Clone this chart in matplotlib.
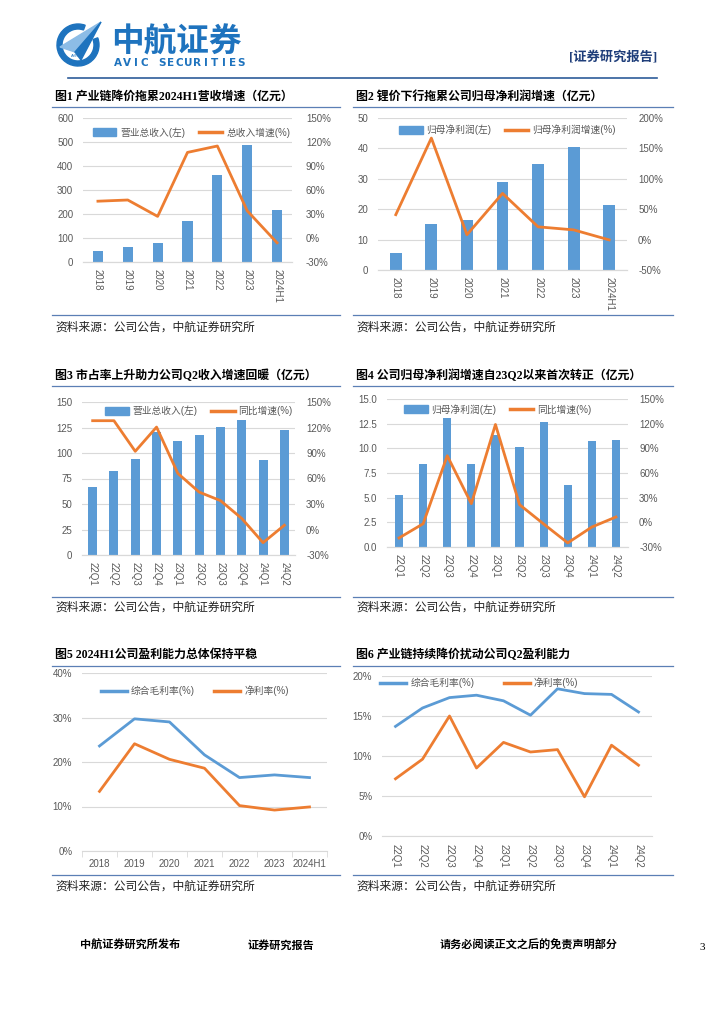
import numpy as np
import matplotlib
matplotlib.use('Agg')
import matplotlib.pyplot as plt
from matplotlib.patches import Wedge, Polygon, Patch
from matplotlib.lines import Line2D

plt.rcParams['font.family'] = ['Liberation Sans', 'Noto Sans CJK SC']

# data
years = ['2018', '2019', '2020', '2021', '2022', '2023', '2024H1']
quarters = ['22Q1', '22Q2', '22Q3', '22Q4', '23Q1', '23Q2', '23Q3', '23Q4', '24Q1', '24Q2']

revenue = [45, 63, 81, 169, 363, 488, 215]
revenue_growth = [46, 47.5, 27, 107, 115, 34, -6]
profit = [5.6, 15.2, 16.5, 29.0, 35.0, 40.5, 21.3]
profit_growth = [41, 167, 8, 76, 21, 16, -0.5]
q_revenue = [67, 82, 94, 120.5, 112, 118, 125.5, 132, 93, 123]
q_revenue_growth = [128, 128, 92, 120.5, 66, 44, 34, 13, -15.5, 5]
q_profit = [5.24, 8.38, 13.07, 8.45, 11.4, 10.1, 12.7, 6.3, 10.7, 10.8]
q_profit_growth = [-19, -1.7, 81, 22.7, 119, 21.5, -2, -25, -5.7, 6.5]
gross_margin = [23.6, 29.7, 29.0, 21.6, 16.5, 17.1, 16.5]
net_margin = [13.4, 24.1, 20.6, 18.6, 10.2, 9.2, 9.9]
q_gross_margin = [13.7, 16.0, 17.3, 17.6, 16.9, 15.1, 18.4, 17.8, 17.7, 15.5]
q_net_margin = [7.15, 9.6, 15.0, 8.5, 11.7, 10.5, 10.8, 4.9, 11.35, 8.85]

titles = ['图1 产业链降价拖累2024H1营收增速（亿元）',
          '图2 锂价下行拖累公司归母净利润增速（亿元）',
          '图3 市占率上升助力公司Q2收入增速回暖（亿元）',
          '图4 公司归母净利润增速自23Q2以来首次转正（亿元）',
          '图5 2024H1公司盈利能力总体保持平稳',
          '图6 产业链持续降价扰动公司Q2盈利能力']
source = '资料来源：公司公告，中航证券研究所'

BLUE = '#5B9BD5'
ORANGE = '#ED7D31'
GRID = '#D9D9D9'
TXT = '#595959'
LINEC = '#5B7FB5'
TFONT = ['Liberation Serif', 'Noto Sans CJK SC']

W, H = 724, 1024
fig = plt.figure(figsize=(W / 100, H / 100), dpi=100)
bg = fig.add_axes([0, 0, 1, 1], zorder=0)
bg.set_xlim(0, W)
bg.set_ylim(H, 0)
bg.axis('off')


def rect(x0, y0, x1, y1):
    return [x0 / W, 1 - y1 / H, (x1 - x0) / W, (y1 - y0) / H]


# header
bg.add_patch(Wedge((78, 45), 21, -20, 290, width=5, color='#1E73BE'))
bg.add_patch(Polygon([(60, 47), (101, 22), (75, 52)], color='#8CBCE6'))
bg.add_patch(Polygon([(75, 52), (101, 22), (81, 60)], color='#1E73BE'))
bg.text(76, 56, 'AVIC', fontsize=3, color='#1E73BE', ha='center', va='center')
bg.text(111, 42, '中航证券', fontsize=23.5, fontweight='bold', color='#1E73BE',
        family=['Noto Sans CJK SC'], va='center')
for i, ch in enumerate('AVIC SECURITIES'):
    bg.text(118 + i * 8.8, 63, ch, fontsize=7.5, fontweight='bold',
            color='#1E73BE', ha='center', va='center', family=['DejaVu Sans'])
bg.text(657, 57, '[证券研究报告]', fontsize=9.5, fontweight='bold', color='#1F3E7A',
        ha='right', va='center', family=TFONT)
bg.plot([68, 657], [78, 78], color='#2E5C9A', lw=1.2)

# frames of the six panels
panels = [(52, 340, 97, 107, 315, 327), (353, 673, 97, 107, 315, 327),
          (52, 340, 376, 386, 597, 607), (353, 673, 376, 386, 597, 607),
          (52, 340, 655, 666, 875, 886), (353, 673, 655, 666, 875, 886)]
for t, (x0, x1, ty, tl, bl, sy) in zip(titles, panels):
    bg.text(x0 + 3, ty, t, fontsize=8.6, fontweight='bold', va='center', family=TFONT)
    bg.plot([x0, x1], [tl, tl], color=LINEC, lw=0.9)
    bg.plot([x0, x1], [bl, bl], color=LINEC, lw=0.9)
    bg.text(x0 + 3, sy, source, fontsize=8.5, va='center', color='#222222',
            family=['Noto Sans CJK SC'])

# footer
bg.text(80, 945, '中航证券研究所发布', fontsize=8, fontweight='bold', va='center', family=TFONT)
bg.text(248, 945, '证券研究报告', fontsize=8, fontweight='bold', va='center', family=TFONT)
bg.text(440, 945, '请务必阅读正文之后的免责声明部分', fontsize=8, fontweight='bold',
        va='center', family=TFONT)
bg.text(700, 947, '3', fontsize=8, va='center', family=['Liberation Serif'])


def style(ax, lpad=7, bpad=5):
    for s in ax.spines.values():
        s.set_visible(False)
    ax.spines['bottom'].set_visible(True)
    ax.spines['bottom'].set_color(GRID)
    ax.tick_params(length=0, labelsize=7, colors=TXT)
    ax.tick_params(axis='y', pad=lpad)
    ax.tick_params(axis='x', pad=bpad)


def bar_line(r, cats, bars, line, ylim, yticks, yfmt, rlim, rticks, names,
             ly, lx=0.5, width=0.36, rpad=8):
    ax = fig.add_axes(rect(*r), zorder=2)
    x = np.arange(len(cats))
    ax.bar(x, bars, width, color=BLUE, zorder=2)
    ax.set_xlim(-0.5, len(cats) - 0.5)
    ax.set_ylim(ylim)
    ax.set_yticks(yticks)
    ax.set_yticklabels([yfmt(v) for v in yticks])
    ax.yaxis.grid(True, color=GRID, lw=0.8)
    ax.set_axisbelow(True)
    ax.set_xticks(x)
    ax.set_xticklabels(cats, rotation=270)
    style(ax)
    ax2 = ax.twinx()
    ax2.plot(x, line, color=ORANGE, lw=2)
    ax2.set_ylim(rlim)
    ax2.set_yticks(rticks)
    ax2.set_yticklabels([f'{v}%' for v in rticks])
    style(ax2, lpad=rpad)
    handles = [Patch(color=BLUE), Line2D([], [], color=ORANGE, lw=2.5)]
    ax2.legend(handles, names, loc='center', bbox_to_anchor=(lx, ly), ncol=2,
               frameon=False, fontsize=7, handlelength=2.4, handleheight=0.9,
               columnspacing=1.4, handletextpad=0.4, labelcolor=TXT)
    return ax


def lines(r, cats, a, b, ylim, yticks, names, ly, lx=0.5, rot=0, cs=2.5):
    ax = fig.add_axes(rect(*r), zorder=2)
    x = np.arange(len(cats))
    ax.plot(x, a, color=BLUE, lw=2)
    ax.plot(x, b, color=ORANGE, lw=2)
    ax.set_xlim(-0.5, len(cats) - 0.5)
    ax.set_ylim(ylim)
    ax.set_yticks(yticks)
    ax.set_yticklabels([f'{v}%' for v in yticks])
    ax.yaxis.grid(True, color=GRID, lw=0.8)
    ax.set_xticks(x)
    ax.set_xticklabels(cats, rotation=rot)
    style(ax, lpad=7, bpad=6)
    handles = [Line2D([], [], color=BLUE, lw=2.5), Line2D([], [], color=ORANGE, lw=2.5)]
    ax.legend(handles, names, loc='center', bbox_to_anchor=(lx, ly), ncol=2,
              frameon=False, fontsize=7, handlelength=2.7, columnspacing=cs,
              handletextpad=0.4, labelcolor=TXT)
    return ax


bar_line((83, 118, 292, 262), years, revenue, revenue_growth, (0, 600),
         range(0, 601, 100), lambda v: f'{v}', (-30, 150), range(-30, 151, 30),
         ['营业总收入(左)', '总收入增速(%)'], 0.9, 0.52, width=0.34, rpad=10)
bar_line((378, 118, 627, 270), years, profit, profit_growth, (0, 50),
         range(0, 51, 10), lambda v: f'{v}', (-50, 200), range(-50, 201, 50),
         ['归母净利润(左)', '归母净利润增速(%)'], 0.92, 0.52, width=0.33)
bar_line((82, 402, 295, 555), quarters, q_revenue, q_revenue_growth, (0, 150),
         range(0, 151, 25), lambda v: f'{v}', (-30, 150), range(-30, 151, 30),
         ['营业总收入(左)', '同比增速(%)'], 0.94, 0.55, width=0.42)
bar_line((387, 399, 628, 547), quarters, q_profit, q_profit_growth, (0, 15),
         np.arange(0, 15.1, 2.5), lambda v: f'{v:.1f}', (-30, 150), range(-30, 151, 30),
         ['归母净利润(左)', '同比增速(%)'], 0.93, 0.46, width=0.34)

ax5 = lines((82, 673, 327, 851), years, gross_margin, net_margin, (0, 40),
            range(0, 41, 10), ['综合毛利率(%)', '净利率(%)'], 0.9, 0.46, cs=2.0)
ax5.set_xticks(np.arange(-0.5, 7, 1), minor=True)
ax5.tick_params(axis='x', which='minor', length=4, color=GRID, direction='out')
lines((382, 676, 652, 836), quarters, q_gross_margin, q_net_margin, (0, 20),
      range(0, 21, 5), ['综合毛利率(%)', '净利率(%)'], 0.955, 0.36, rot=270, cs=3.0)

fig.savefig('out.png', dpi=100)
